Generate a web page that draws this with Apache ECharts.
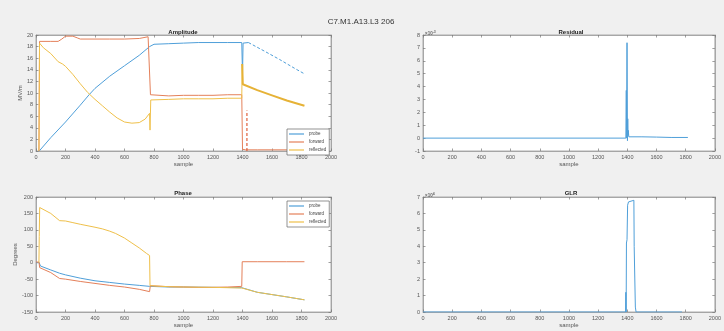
<!DOCTYPE html>
<html>
<head>
<meta charset="utf-8">
<script src="https://cdn.jsdelivr.net/npm/echarts@6/dist/echarts.min.js"></script>
<style>
  html, body { margin: 0; padding: 0; background: #f0f0f0; }
  #chart { width: 724px; height: 331px; }
</style>
</head>
<body>
<div id="chart"></div>
<script>
// ---- data: [sample, value] ----
const xTicks = [0, 200, 400, 600, 800, 1000, 1200, 1400, 1600, 1800, 2000];

// Amplitude (MV/m)
const ampProbe = [[22,0],[25,0.1],[100,2.3],[200,5.0],[300,7.9],[360,9.7],[400,10.8],[500,12.9],[600,14.7],[700,16.5],[770,18.0],[780,18.3],[800,18.4],[900,18.5],[1000,18.6],[1100,18.7],[1200,18.7],[1300,18.7],[1395,18.7],[1400,13.2],[1404,18.6],[1440,18.7]];
const ampProbeTail = [[1440,18.7],[1550,17.2],[1650,15.8],[1750,14.3],[1820,13.3]];
const ampForward = [[20,0],[24,18.9],[100,18.9],[150,18.9],[175,19.3],[200,19.8],[250,19.8],[280,19.5],[300,19.3],[400,19.3],[500,19.3],[600,19.3],[700,19.4],[760,19.7],[772,19.7],[776,9.7],[780,9.5],[900,9.5],[1000,9.6],[1100,9.6],[1200,9.6],[1300,9.7],[1395,9.7],[1400,0.3],[1420,0.2],[1500,0.2],[1600,0.2],[1700,0.2],[1820,0.2]];
const ampForwardSpike = [[1430,0],[1430,7.0]];
const ampReflected = [[20,0],[24,18.6],[50,17.8],[100,16.8],[150,15.4],[180,15.0],[200,14.6],[250,13.2],[300,11.6],[350,10.1],[400,8.9],[450,7.8],[500,6.7],[550,5.7],[600,5.0],[650,4.8],[700,4.9],[740,5.5],[770,6.5],[773,3.6],[778,8.8],[900,8.9],[1000,9.0],[1100,9.0],[1200,9.0],[1300,9.1],[1395,9.1],[1398,15.0]];
const ampReflectedTail = [[1398,15.0],[1402,11.5],[1410,11.3],[1500,10.5],[1600,9.6],[1700,8.7],[1820,7.8]];

// Phase (Degrees)
const phProbe = [[0,0],[22,0],[30,-10],[100,-22],[160,-32],[200,-37],[300,-47],[400,-55],[500,-60],[600,-65],[700,-69],[770,-72],[780,-73],[900,-74],[1000,-74],[1200,-75],[1395,-76],[1400,-82],[1500,-90],[1600,-97],[1700,-104],[1820,-113]];
const phForward = [[0,2],[20,2],[25,-15],[100,-30],[160,-48],[200,-50],[300,-57],[400,-63],[500,-69],[600,-74],[700,-81],[770,-88],[775,-70],[780,-72],[900,-73],[1000,-74],[1100,-75],[1200,-75],[1300,-74],[1395,-72],[1398,3],[1500,3],[1600,3],[1700,3],[1820,3]];
const phReflected = [[20,0],[22,80],[25,168],[100,150],[160,128],[200,127],[250,122],[300,117],[400,108],[450,103],[500,96],[540,89],[600,75],[650,60],[700,45],[750,28],[770,22],[773,-70],[780,-72],[900,-73],[1000,-74],[1200,-75],[1395,-77],[1400,-83],[1500,-90],[1600,-97],[1700,-104],[1820,-113]];

// Residual (x10^-3)
const residual = [[0,0],[1390,0],[1393,3.7],[1395,0],[1398,7.4],[1401,-0.2],[1403,1.5],[1405,0.2],[1407,0.6],[1410,0.1],[1500,0.1],[1600,0.08],[1700,0.05],[1815,0.05]];

// GLR (x10^4)
const glr = [[0,0],[1388,0],[1390,1.2],[1392,0],[1394,4.2],[1398,4.4],[1402,6.5],[1408,6.7],[1420,6.8],[1445,6.8],[1447,4.0],[1450,4.0],[1455,0.3],[1460,0],[1775,0]];

const seriesNames = ['probe', 'forward', 'reflected'];
const C_BLUE = '#4f9fd9', C_RED = '#e4805a', C_YEL = '#efc04a';

// ---- layout ----
const grids = [
  { left: 36, top: 35, width: 295, height: 116 },
  { left: 423, top: 35, width: 295, height: 116 },
  { left: 36, top: 197, width: 295, height: 115 },
  { left: 423, top: 197, width: 295, height: 115 }
];
const FONT = 'Liberation Sans';
const lbl = { fontSize: 5.5, color: '#555', fontFamily: FONT, margin: 3, formatter: v => String(v) };
const axLine = { show: true, onZero: false, lineStyle: { color: '#9a9a9a', width: 0.8 } };
const tick = { show: true, inside: true, length: 2.5, lineStyle: { color: '#777', width: 0.7 } };

const xAxes = [], yAxes = [];
function addAxes(g, ymin, ymax, yint, yname, yGap) {
  xAxes.push({ type: 'value', gridIndex: g, min: 0, max: 2000, interval: 200, position: 'bottom',
    axisLine: axLine, axisTick: tick, splitLine: { show: false }, axisLabel: lbl,
    name: 'sample', nameLocation: 'middle', nameGap: 9,
    nameTextStyle: { fontSize: 6, color: '#555', fontFamily: FONT } });
  xAxes.push({ type: 'value', gridIndex: g, min: 0, max: 2000, interval: 200, position: 'top',
    axisLine: axLine, axisTick: tick, splitLine: { show: false }, axisLabel: { show: false } });
  yAxes.push({ type: 'value', gridIndex: g, min: ymin, max: ymax, interval: yint, position: 'left',
    axisLine: axLine, axisTick: tick, splitLine: { show: false }, axisLabel: lbl,
    name: yname, nameLocation: 'middle', nameGap: yGap, nameRotate: 90,
    nameTextStyle: { fontSize: 6, color: '#555', fontFamily: FONT } });
  yAxes.push({ type: 'value', gridIndex: g, min: ymin, max: ymax, interval: yint, position: 'right',
    axisLine: axLine, axisTick: tick, splitLine: { show: false }, axisLabel: { show: false } });
}
addAxes(0, 0, 20, 2, 'MV/m', 11);
addAxes(1, -1, 8, 1, '', 10);
addAxes(2, -150, 200, 50, 'Degrees', 15);
addAxes(3, 0, 7, 1, '', 10);

function line(name, data, g, color, width, dashed) {
  return {
    type: 'line', name: name, data: data,
    xAxisIndex: g * 2, yAxisIndex: g * 2,
    symbol: 'none', animation: false,
    lineStyle: { color: color, width: width, type: dashed ? [3, 2] : 'solid' },
    itemStyle: { color: color }
  };
}

const series = [
  // Amplitude
  line('probe', ampProbe, 0, C_BLUE, 1),
  line('forward', ampForward, 0, C_RED, 1),
  line('reflected', ampReflected, 0, C_YEL, 1),
  line('probe', ampProbeTail, 0, C_BLUE, 1, true),
  line('forward', ampForwardSpike, 0, '#e0603a', 1.2, true),
  line('reflected', ampReflectedTail, 0, '#e6b236', 2),
  // Residual
  line('residual', residual, 1, C_BLUE, 1),
  // Phase
  line('probe', phProbe, 2, C_BLUE, 1),
  line('forward', phForward, 2, C_RED, 1),
  line('reflected', phReflected, 2, C_YEL, 1),
  // GLR
  line('GLR', glr, 3, C_BLUE, 1)
];

const legendBase = {
  data: seriesNames, orient: 'vertical', icon: 'rect', itemWidth: 15, itemHeight: 1.2, itemGap: 3,
  padding: [2.5, 3, 2.5, 2], backgroundColor: '#fff', borderColor: '#666', borderWidth: 0.7,
  textStyle: { fontSize: 4.5, color: '#444', fontFamily: FONT }, selectedMode: false
};

const subTitle = (text, x, y) => ({
  text: text, left: x, top: y, textAlign: 'center', padding: 0,
  textStyle: { fontSize: 6, fontWeight: 'bold', color: '#222', fontFamily: FONT }
});
const expTitle = (base, exp, x, y) => ({
  text: base + '{s|' + exp + '}', left: x, top: y, padding: 0,
  textStyle: { fontSize: 4.5, color: '#666', fontFamily: FONT,
    rich: { s: { fontSize: 3.5, color: '#666', verticalAlign: 'top', padding: [0, 0, 3, 0] } } }
});

const option = {
  backgroundColor: '#f0f0f0',
  animation: false,
  title: [
    { text: 'C7.M1.A13.L3 206', left: 361, top: 18, textAlign: 'center', padding: 0,
      textStyle: { fontSize: 8, fontWeight: 'normal', color: '#333', fontFamily: FONT } },
    subTitle('Amplitude', 183, 29),
    subTitle('Residual', 571, 29),
    subTitle('Phase', 183, 190),
    subTitle('GLR', 571, 190),
    expTitle('\u00d710', '-3', 425, 30),
    expTitle('\u00d710', '4', 425, 192)
  ],
  legend: [
    Object.assign({}, legendBase, { left: 287, top: 129 }),
    Object.assign({}, legendBase, { left: 287, top: 201 })
  ],
  grid: grids.map(g => Object.assign({ show: true, backgroundColor: '#fff', borderColor: '#9a9a9a', borderWidth: 0.8 }, g)),
  xAxis: xAxes,
  yAxis: yAxes,
  series: series
};

const chart = echarts.init(document.getElementById('chart'), null, { renderer: 'canvas' });
chart.setOption(option);
</script>
</body>
</html>
